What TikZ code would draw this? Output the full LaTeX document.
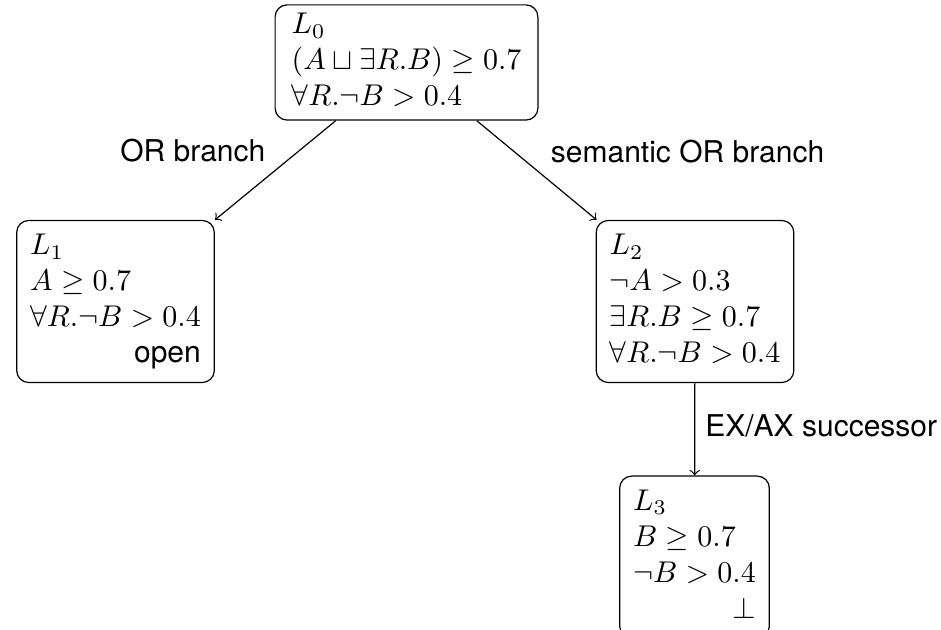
\documentclass[tikz,border=0pt]{standalone}
\usepackage{fontspec}
\newfontfamily\labfont{TeX Gyre Heros}
\begin{document}
\begin{tikzpicture}[x=0.3333pt,y=-0.3333pt,
  box/.style={draw, rounded corners=4pt, inner xsep=4.5pt, inner ysep=3pt},
  lab/.style={font=\labfont}]
\useasboundingbox (0,0) rectangle (941,630);
\clip (0,0) rectangle (941,630);
\node[box, inner xsep=5.5pt, inner ysep=1.2pt] (L0) at (406.5,62.5) {\begin{tabular}{@{}l@{}}
  $L_0$\\ $(A\sqcup\exists R.B)\geq 0.7$\\ $\forall R.\neg B>0.4$\end{tabular}};
\node[box] (L1) at (115.5,301.5) {\begin{tabular}{@{}l@{}}
  $L_1$\\ $A\geq 0.7$\\ $\forall R.\neg B>0.4$\\ \multicolumn{1}{@{}r@{}}{\labfont open}\end{tabular}};
\node[box] (L2) at (695,301.5) {\begin{tabular}{@{}l@{}}
  $L_2$\\ $\neg A>0.3$\\ $\exists R.B\geq 0.7$\\ $\forall R.\neg B>0.4$\end{tabular}};
\node[box, anchor=north] (L3) at (694.5,475.5) {\begin{tabular}{@{}l@{}}
  $L_3$\\ $B\geq 0.7$\\ $\neg B>0.4$\\ \multicolumn{1}{@{}r@{}}{$\bot$}\end{tabular}};
\draw[->] (L0) -- node[midway, lab, xshift=-27.5pt, yshift=6.5pt]{OR branch} (L1);
\draw[->] (L0) -- node[midway, lab, xshift=50.3pt, yshift=6.4pt]{semantic OR branch} (L2);
\draw[->] (L2) -- node[midway, lab, anchor=west, xshift=0pt, yshift=1pt]{EX/AX successor} (L3);
\end{tikzpicture}
\end{document}
